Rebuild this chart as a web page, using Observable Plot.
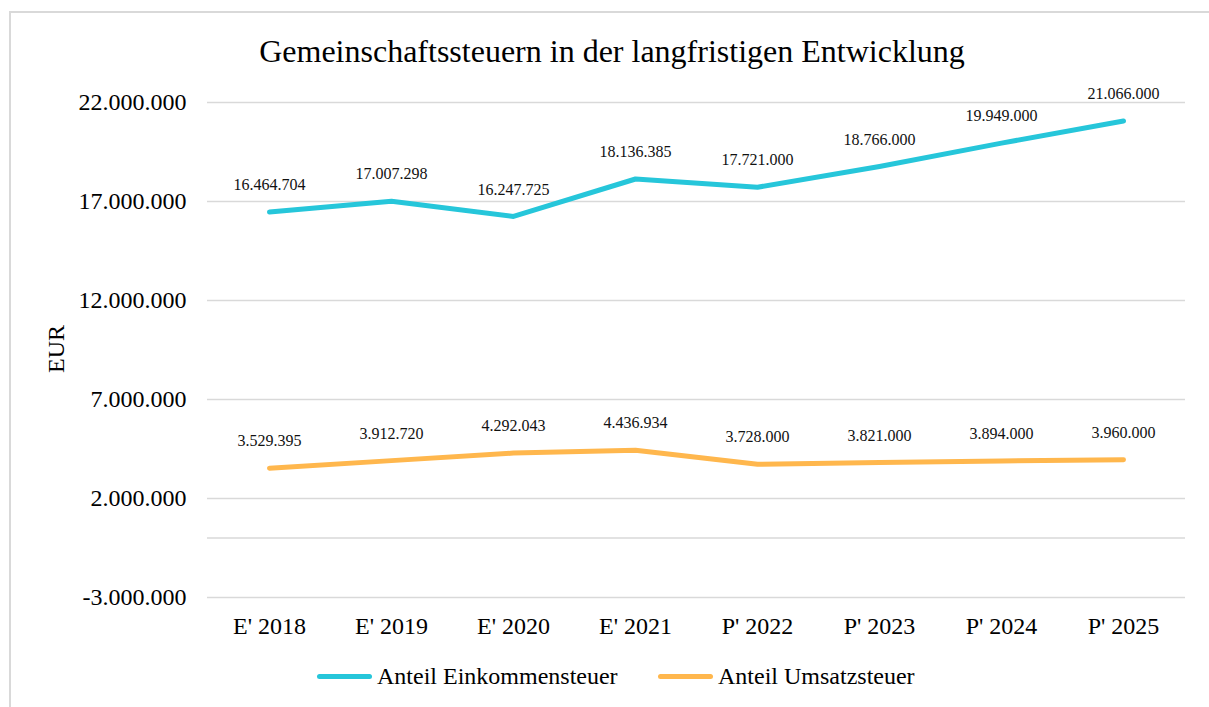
<!DOCTYPE html>
<html>
<head>
<meta charset="utf-8">
<script src="https://cdn.jsdelivr.net/npm/d3@7"></script>
<script src="https://cdn.jsdelivr.net/npm/@observablehq/plot@0.6"></script>
<style>
  html, body { margin: 0; padding: 0; background: #fff; }
  #wrap { position: relative; width: 1209px; height: 707px; overflow: hidden; font-family: "Liberation Serif", "Times New Roman", serif; }
  #border { position: absolute; left: 9px; top: 11px; width: 1300px; height: 800px; border: 2px solid #d9d9d9; box-sizing: border-box; }
  #title { position: absolute; left: 0; width: 1224px; top: 32px; text-align: center; font-size: 32px; line-height: 38px; color: #000; white-space: nowrap; font-family: "Liberation Serif", serif; }
  #ylabel { position: absolute; left: 56px; top: 349px; transform: translate(-50%, -50%) rotate(-90deg); font-size: 24px; color: #000; font-family: "Liberation Serif", serif; }
  #chart { position: absolute; left: 0; top: 0; }
  #legend { position: absolute; top: 0; left: 0; font-size: 24px; color: #000; font-family: "Liberation Serif", serif; }
  .item { position: absolute; white-space: nowrap; top: 662px; line-height: 28px; }
  .sw { position: absolute; top: 674px; width: 55px; height: 5px; border-radius: 3px; }
  #chart svg text { font-family: "Liberation Serif", serif; }
</style>
</head>
<body>
<div id="wrap">
  <div id="border"></div>
  <div id="title">Gemeinschaftssteuern in der langfristigen Entwicklung</div>
  <div id="chart"></div>
  <div id="ylabel">EUR</div>
  <div id="legend"></div>
</div>
<script>
const categories = ["E' 2018", "E' 2019", "E' 2020", "E' 2021", "P' 2022", "P' 2023", "P' 2024", "P' 2025"];
const einkommensteuer = [16464704, 17007298, 16247725, 18136385, 17721000, 18766000, 19949000, 21066000];
const umsatzsteuer = [3529395, 3912720, 4292043, 4436934, 3728000, 3821000, 3894000, 3960000];
const yTicks = [-3000000, 2000000, 7000000, 12000000, 17000000, 22000000];
const seriesNames = ["Anteil Einkommensteuer", "Anteil Umsatzsteuer"];
const seriesColors = ["#26C6DA", "#FFB74D"];

const de = d3.formatLocale({decimal: ",", thousands: ".", grouping: [3], currency: ["", " €"], minus: "-"});
const fmt = de.format(",d");

const rows = [];
categories.forEach((c, i) => {
  rows.push({cat: c, value: einkommensteuer[i], series: seriesNames[0]});
  rows.push({cat: c, value: umsatzsteuer[i], series: seriesNames[1]});
});

const chart = Plot.plot({
  width: 1209,
  height: 647,
  marginLeft: 207,
  marginRight: 24,
  marginTop: 102,
  marginBottom: 50,
  style: {fontFamily: "'Liberation Serif', 'Times New Roman', serif", background: "transparent", color: "#000"},
  x: {type: "point", domain: categories, padding: 0.5, label: null},
  y: {domain: [-3000000, 22000000], label: null},
  color: {domain: seriesNames, range: seriesColors},
  marks: [
    Plot.ruleY(yTicks, {stroke: "#d9d9d9", strokeWidth: 1.5}),
    Plot.ruleY([0], {stroke: "#d9d9d9", strokeWidth: 1.5}),
    Plot.axisY({ticks: yTicks, tickFormat: fmt, tickSize: 0, tickPadding: 21, fontSize: 24, label: null}),
    Plot.axisX({tickSize: 0, tickPadding: 19, fontSize: 24, label: null}),
    Plot.line(rows, {x: "cat", y: "value", z: "series", stroke: "series", strokeWidth: 5, strokeLinecap: "round", strokeLinejoin: "round"}),
    Plot.text(rows, {x: "cat", y: "value", text: d => fmt(d.value), dy: -27, fontSize: 16, fill: "#111"})
  ]
});
document.getElementById("chart").appendChild(chart);

const legend = document.getElementById("legend");
const legendPos = [[317, 377], [658, 718]];
seriesNames.forEach((name, i) => {
  const sw = document.createElement("div");
  sw.className = "sw";
  sw.style.left = legendPos[i][0] + "px";
  sw.style.background = seriesColors[i];
  legend.appendChild(sw);
  const t = document.createElement("div");
  t.className = "item";
  t.style.left = legendPos[i][1] + "px";
  t.textContent = name;
  legend.appendChild(t);
});
</script>
</body>
</html>
